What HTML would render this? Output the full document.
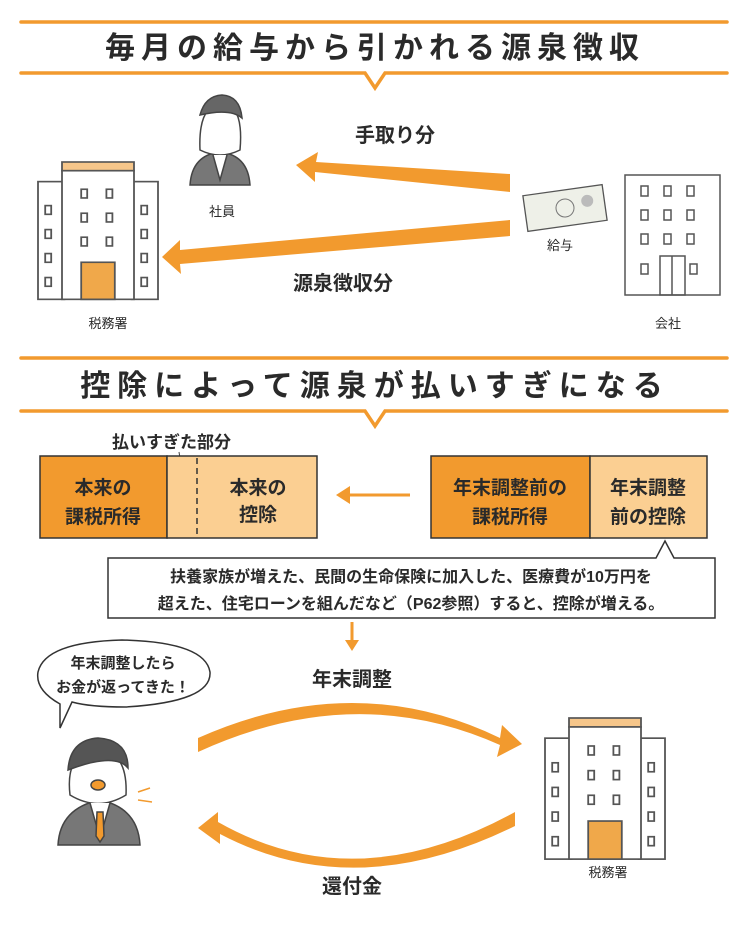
<!DOCTYPE html>
<html><head><meta charset="utf-8"><style>
html,body{margin:0;padding:0;background:#fff;}
svg{display:block}
text{font-family:"Liberation Sans","Noto Sans CJK JP",sans-serif;fill:#2a2a2a;}
</style></head><body>
<svg width="753" height="926" viewBox="0 0 753 926" xmlns="http://www.w3.org/2000/svg">
<defs>
<g id="bld">
 <rect x="20" y="0" width="60" height="8" fill="#f6c68a" stroke="#555" stroke-width="1.5"/>
 <rect x="0" y="18" width="22" height="108" fill="#fff" stroke="#555" stroke-width="1.5"/>
 <rect x="78" y="18" width="22" height="108" fill="#fff" stroke="#555" stroke-width="1.5"/>
 <rect x="20" y="8" width="60" height="118" fill="#fff" stroke="#555" stroke-width="1.5"/>
 <g fill="none" stroke="#555" stroke-width="1.5">
  <rect x="6" y="40" width="5" height="8"/><rect x="6" y="62" width="5" height="8"/><rect x="6" y="84" width="5" height="8"/><rect x="6" y="106" width="5" height="8"/>
  <rect x="86" y="40" width="5" height="8"/><rect x="86" y="62" width="5" height="8"/><rect x="86" y="84" width="5" height="8"/><rect x="86" y="106" width="5" height="8"/>
  <rect x="36" y="25" width="5" height="8"/><rect x="57" y="25" width="5" height="8"/>
  <rect x="36" y="47" width="5" height="8"/><rect x="57" y="47" width="5" height="8"/>
  <rect x="36" y="69" width="5" height="8"/><rect x="57" y="69" width="5" height="8"/>
 </g>
 <rect x="36" y="92" width="28" height="34" fill="#f0a84a" stroke="#555" stroke-width="1.5"/>
</g>
</defs>
<g stroke="#f29a2e" stroke-width="3.5" fill="none" stroke-linecap="round">
 <line x1="21" y1="22" x2="727" y2="22"/>
 <polyline points="21,73 365,73 375,88 385,73 727,73" stroke-linejoin="miter"/>
 <line x1="21" y1="358" x2="727" y2="358"/>
 <polyline points="21,411 365,411 375,426 385,411 727,411"/>
</g>
<text x="375" y="58" font-size="30" font-weight="bold" text-anchor="middle" letter-spacing="6">毎月の給与から引かれる源泉徴収</text>
<text x="375" y="396" font-size="30" font-weight="bold" text-anchor="middle" letter-spacing="7">控除によって源泉が払いすぎになる</text>

<!-- top section -->
<use href="#bld" transform="translate(38,162) scale(1.2,1.09)"/>
<text x="108" y="328" font-size="13" text-anchor="middle">税務署</text>
<g stroke="#555" stroke-width="1.5" fill="#fff">
 <rect x="625" y="175" width="95" height="120"/>
</g>
<g fill="none" stroke="#555" stroke-width="1.5">
 <rect x="641" y="186" width="7" height="10"/><rect x="664" y="186" width="7" height="10"/><rect x="687" y="186" width="7" height="10"/>
 <rect x="641" y="210" width="7" height="10"/><rect x="664" y="210" width="7" height="10"/><rect x="687" y="210" width="7" height="10"/>
 <rect x="641" y="234" width="7" height="10"/><rect x="664" y="234" width="7" height="10"/><rect x="687" y="234" width="7" height="10"/>
 <rect x="641" y="264" width="7" height="10"/><rect x="690" y="264" width="7" height="10"/>
 <rect x="660" y="256" width="25" height="39"/><line x1="672" y1="256" x2="672" y2="295"/>
</g>
<text x="668" y="328" font-size="13" text-anchor="middle">会社</text>
<!-- person top -->
<g stroke="#444" stroke-width="1.5">
 <path d="M190,185 Q192,155 220,152 Q248,155 250,185 Z" fill="#777"/>
 <path d="M200,150 Q198,105 222,103 Q244,105 240,150 Q220,160 200,150Z" fill="#fff"/>
 <path d="M200,115 Q205,96 222,95 Q240,96 242,118 Q230,108 200,115Z" fill="#666"/>
 <path d="M213,155 L220,180 L227,155" fill="#fff"/>
</g>
<text x="222" y="216" font-size="13" text-anchor="middle">社員</text>
<!-- money -->
<g transform="rotate(-8 565 208)">
 <rect x="525" y="190" width="80" height="36" fill="#eef0e8" stroke="#555" stroke-width="1.3"/>
 <circle cx="565" cy="208" r="9" fill="none" stroke="#777"/>
 <circle cx="588" cy="204" r="6" fill="#bbb"/>
</g>
<text x="560" y="250" font-size="13" text-anchor="middle">給与</text>
<!-- arrows -->
<polygon points="510,174 510,192 315,172 315,182 296,165 318,152 316,162" fill="#f29a2e"/>
<polygon points="510,220 510,236 180,264 181,274 162,257 180,240 180,250" fill="#f29a2e"/>
<text x="395" y="142" font-size="20" font-weight="bold" text-anchor="middle">手取り分</text>
<text x="343" y="290" font-size="20" font-weight="bold" text-anchor="middle">源泉徴収分</text>

<!-- boxes -->
<text x="112" y="448" font-size="17" font-weight="bold">払いすぎた部分</text>
<line x1="179" y1="452" x2="182" y2="470" stroke="#444" stroke-width="1"/>
<rect x="40" y="456" width="127" height="82" fill="#f29a2e" stroke="#333" stroke-width="1.5"/>
<rect x="167" y="456" width="150" height="82" fill="#fbcf92" stroke="#333" stroke-width="1.5"/>
<line x1="197" y1="458" x2="197" y2="536" stroke="#333" stroke-width="1.5" stroke-dasharray="6,4"/>
<g font-size="19" font-weight="bold" text-anchor="middle">
<text x="103" y="494">本来の</text>
<text x="103" y="523">課税所得</text>
<text x="258" y="494">本来の</text>
<text x="258" y="521">控除</text>
<text x="510" y="494">年末調整前の</text>
<text x="510" y="523">課税所得</text>
<text x="648" y="494">年末調整</text>
<text x="648" y="523">前の控除</text>
</g>
<rect x="431" y="456" width="159" height="82" fill="#f29a2e" stroke="#333" stroke-width="1.5"/>
<rect x="590" y="456" width="117" height="82" fill="#fbcf92" stroke="#333" stroke-width="1.5"/>
<g font-size="19" font-weight="bold" text-anchor="middle">
<text x="510" y="494">年末調整前の</text>
<text x="510" y="523">課税所得</text>
<text x="648" y="494">年末調整</text>
<text x="648" y="523">前の控除</text>
</g>
<line x1="410" y1="495" x2="348" y2="495" stroke="#f29a2e" stroke-width="3"/>
<polygon points="336,495 350,486 350,504" fill="#f29a2e"/>
<path d="M108,558 H656 L665,541 L674,558 H715 V618 H108 Z" fill="#fff" stroke="#333" stroke-width="1.5"/>
<text x="411" y="582" font-size="16" font-weight="bold" text-anchor="middle">扶養家族が増えた、民間の生命保険に加入した、医療費が10万円を</text>
<text x="411" y="609" font-size="16" font-weight="bold" text-anchor="middle">超えた、住宅ローンを組んだなど（P62参照）すると、控除が増える。</text>
<line x1="352" y1="622" x2="352" y2="642" stroke="#f29a2e" stroke-width="3"/>
<polygon points="345,640 359,640 352,651" fill="#f29a2e"/>

<!-- bottom -->
<path d="M60,704 Q35,690 38,672 Q45,642 122,640 Q205,642 210,672 Q212,702 125,707 Q90,707 72,702 L60,728 Z" fill="#fff" stroke="#333" stroke-width="1.5"/>
<text x="123" y="668" font-size="15" font-weight="bold" text-anchor="middle">年末調整したら</text>
<text x="123" y="692" font-size="15" font-weight="bold" text-anchor="middle">お金が返ってきた！</text>
<text x="352" y="686" font-size="20" font-weight="bold" text-anchor="middle">年末調整</text>
<text x="352" y="893" font-size="20" font-weight="bold" text-anchor="middle">還付金</text>
<path d="M198,752 Q355,680 500,745 L497,757 L522,744 L502,725 L500,738 Q355,668 198,738 Z" fill="#f29a2e"/>
<path d="M515,812 Q355,900 218,822 L218,812 L198,828 L220,844 L220,834 Q355,905 515,826 Z" fill="#f29a2e"/>
<use href="#bld" transform="translate(545,718) scale(1.2,1.12)"/>
<text x="608" y="877" font-size="13" text-anchor="middle">税務署</text>
<!-- person bottom -->
<g stroke="#444" stroke-width="1.5">
 <path d="M58,845 Q60,808 100,800 Q138,808 140,845 Z" fill="#777"/>
 <path d="M70,795 Q65,752 98,748 Q128,752 126,795 Q98,812 70,795Z" fill="#fff"/>
 <path d="M68,770 Q70,740 98,738 Q128,740 128,768 Q115,752 68,770Z" fill="#555"/>
 <path d="M90,803 L100,838 L110,803" fill="#fff"/>
 <path d="M97,812 L103,812 L104,836 L100,842 L96,836Z" fill="#f29a2e"/>
 <ellipse cx="98" cy="785" rx="7" ry="5" fill="#f29a2e"/>
</g>
<g stroke="#f29a2e" stroke-width="1.5"><line x1="138" y1="792" x2="150" y2="788"/><line x1="138" y1="800" x2="152" y2="802"/></g>
</svg>
</body></html>
